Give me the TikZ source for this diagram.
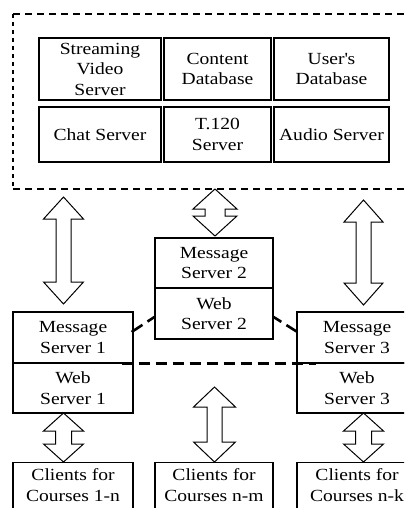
\documentclass[tikz,border=0pt]{standalone}
\usepackage{fontspec}
\setmainfont{Liberation Serif}[FakeStretch=1.15]
\usetikzlibrary{calc}
\newcommand\fs{\fontsize{17}{20.5}\selectfont}
\tikzset{
  cell/.style={draw, line width=1.6pt, inner sep=0pt, align=center, font=\fs},
  srv/.style={draw, line width=1.2pt, inner sep=0pt, align=center, font=\fs, minimum width=120pt},
  txt/.style={inner sep=0pt, align=center, font=\fs},
  blk/.style={draw, line width=1pt, line join=miter, fill=white},
  thickdash/.style={line width=2.6pt, dash pattern=on 11pt off 6pt},
  border/.style={line width=1.1pt},
}
\newcommand\dblarrow[5]{%
  \draw[blk] (#1) -- ($(#1)+(#3,#5)$) -- ($(#1)+(#4,#5)$) -- ($(#2)+(#4,-#5)$)
    -- ($(#2)+(#3,-#5)$) -- (#2) -- ($(#2)+(-#3,-#5)$) -- ($(#2)+(-#4,-#5)$)
    -- ($(#1)+(-#4,#5)$) -- ($(#1)+(-#3,#5)$) -- cycle;}
\begin{document}
\begin{tikzpicture}[x=1pt,y=-1pt]
\useasboundingbox (0,0) rectangle (404,508);
\clip (0,0) rectangle (404,508);
\fill[white] (0,0) rectangle (404,508);

% dashed group border
\coordinate (gtl) at (13,14);
\coordinate (gtr) at (420,14);
\coordinate (gbl) at (13,189);
\coordinate (gbr) at (420,189);
\draw[border, dash pattern=on 7pt off 5pt] (gtl) -- (gtr);
\draw[border, dash pattern=on 7pt off 5pt] (gbl) -- (gbr);
\draw[border, dash pattern=on 4pt off 4pt] (gtl) -- (gbl);

% table of servers
\node[cell, minimum width=122pt, minimum height=62pt] (svs) at (100,69) {Streaming\\Video\\Server};
\node[cell, minimum width=107pt, minimum height=62pt] (cdb) at (217.5,69) {Content\\Database};
\node[cell, minimum width=115pt, minimum height=62pt] (udb) at (331.5,69) {User\textquotesingle s\\Database};
\node[cell, minimum width=122pt, minimum height=55pt] (chat) at (100,134.5) {Chat Server};
\node[cell, minimum width=107pt, minimum height=55pt] (t120) at (217.5,134.5) {T.120\\Server};
\node[cell, minimum width=115pt, minimum height=55pt] (aud) at (331.5,134.5) {Audio Server};

% message / web servers
\node[srv, minimum height=51pt] (ms1) at (73,337.5) {Message\\Server 1};
\node[srv, minimum height=50pt] (ws1) at (73,388) {Web\\Server 1};
\node[srv, minimum width=118pt, minimum height=50pt] (ms2) at (214,263) {Message\\Server 2};
\node[srv, minimum width=118pt, minimum height=51pt] (ws2) at (214,313.5) {Web\\Server 2};
\node[srv, minimum height=51pt] (ms3) at (357,337.5) {Message\\Server 3};
\node[srv, minimum height=50pt] (ws3) at (357,388) {Web\\Server 3};

% clients
\node[srv, minimum height=62pt, anchor=north] (c1) at (73,462) {};
\node[srv, minimum width=118pt, minimum height=62pt, anchor=north] (c2) at (214,462) {};
\node[srv, minimum height=62pt, anchor=north] (c3) at (357,462) {};
\node[txt] (c1t) at ($(c1.north)+(0,23)$) {Clients for\\Courses 1-n};
\node[txt] (c2t) at ($(c2.north)+(0,23)$) {Clients for\\Courses n-m};
\node[txt] (c3t) at ($(c3.north)+(0,23)$) {Clients for\\Courses n-k};

% dashed links between message servers
\draw[thickdash] ($(ms1.south east)+(-12,0)$) -- ($(ms3.south west)+(20,0)$);
\draw[line width=2.6pt, dash pattern=on 13pt off 6pt] ($(ms1.east)+(-2,-5.5)$) -- ($(ws2.west)+(0,3.5)$);
\draw[line width=2.6pt, dash pattern=on 13pt off 6pt] ($(ms3.west)+(1,-5.5)$) -- ($(ws2.east)+(0,3.5)$);

% block arrows
\coordinate (a1t) at (63.5,197);  \coordinate (a1b) at (63.5,304);
\coordinate (a2t) at (215,189);   \coordinate (a2b) at (215,236);
\coordinate (a3t) at (363.5,200); \coordinate (a3b) at (363.5,305);
\coordinate (b1t) at (63.5,413);  \coordinate (b1b) at (63.5,462);
\coordinate (b2t) at (214.5,387); \coordinate (b2b) at (214.5,462);
\coordinate (b3t) at (363.5,413); \coordinate (b3b) at (363.5,462);
\dblarrow{a1t}{a1b}{20}{7.5}{22}
\dblarrow{a2t}{a2b}{22}{10}{20}
\dblarrow{a3t}{a3b}{19.5}{7.5}{22}
\dblarrow{b1t}{b1b}{20}{8}{18}
\dblarrow{b2t}{b2b}{21}{7.5}{20}
\dblarrow{b3t}{b3b}{20}{8}{18}
\end{tikzpicture}
\end{document}
